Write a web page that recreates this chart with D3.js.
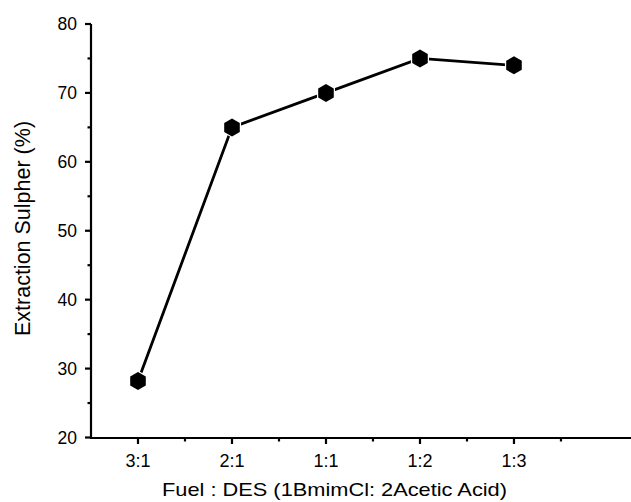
<!DOCTYPE html>
<html><head><meta charset="utf-8">
<script src="https://cdn.jsdelivr.net/npm/d3@7"></script>
<style>body{margin:0;background:#fff;} svg{display:block;font-family:Arial,"Liberation Sans",sans-serif;}</style>
</head><body>
<svg id="chart" width="631" height="502"></svg>
<script>
const categories = ["3:1", "2:1", "1:1", "1:2", "1:3"];
const extraction = [28.2, 65, 70, 75, 74];
const yTicks = [20, 30, 40, 50, 60, 70, 80];
const xTitle = "Fuel : DES (1BmimCl: 2Acetic Acid)";
const yTitle = "Extraction Sulpher (%)";

const svg = d3.select("#chart");
const x = d3.scaleLinear().domain([0.5, 6.245]).range([91, 631]);
const y = d3.scaleLinear().domain([20, 80]).range([437.5, 24]);

// Y axis
const gy = svg.append("g").attr("transform", "translate(91,0)");
gy.append("line").attr("x1",0).attr("x2",0).attr("y1",y(80)).attr("y2",y(20)+1.5).attr("stroke","#000").attr("stroke-width",2.2);
gy.selectAll(".maj").data(yTicks).join("line")
  .attr("x1",-6).attr("x2",0).attr("y1",d=>y(d)).attr("y2",d=>y(d)).attr("stroke","#000").attr("stroke-width",2.2);
gy.selectAll(".min").data(yTicks.slice(0,-1).map(d=>d+5)).join("line")
  .attr("x1",-3.5).attr("x2",0).attr("y1",d=>y(d)).attr("y2",d=>y(d)).attr("stroke","#000").attr("stroke-width",2.2);
gy.selectAll("text").data(yTicks).join("text")
  .attr("x",-14).attr("y",d=>y(d)).attr("dy","0.36em").attr("text-anchor","end")
  .attr("font-size",17.5).text(d=>d);

// X axis
const gx = svg.append("g").attr("transform", "translate(0,438)");
gx.append("line").attr("x1",90).attr("x2",631).attr("y1",0).attr("y2",0).attr("stroke","#000").attr("stroke-width",2.2);
const idx = categories.map((c,i)=>i+1);
gx.selectAll(".maj").data(idx).join("line")
  .attr("x1",d=>x(d)).attr("x2",d=>x(d)).attr("y1",0).attr("y2",6).attr("stroke","#000").attr("stroke-width",2.2);
gx.selectAll(".min").data(idx.map(d=>d+0.5)).join("line")
  .attr("x1",d=>x(d)).attr("x2",d=>x(d)).attr("y1",0).attr("y2",3.5).attr("stroke","#000").attr("stroke-width",2.2);
gx.selectAll("text").data(categories).join("text")
  .attr("x",(d,i)=>x(i+1)).attr("y",29).attr("text-anchor","middle")
  .attr("font-size",18).text(d=>d);

// Titles
svg.append("text").attr("x",334.5).attr("y",495.5).attr("text-anchor","middle").attr("font-size",18.5)
  .attr("textLength",345).attr("lengthAdjust","spacingAndGlyphs").text(xTitle);
svg.append("text").attr("transform","translate(30,228.5) rotate(-90)").attr("text-anchor","middle").attr("font-size",21.5).text(yTitle);

// Line
const pts = extraction.map((v,i)=>[x(i+1), y(v)]);
svg.append("path").datum(pts)
  .attr("d", d3.line())
  .attr("fill","none").attr("stroke","#000").attr("stroke-width",2.8);

// Hexagon markers (pointy top)
const r = 9;
const hex = d3.range(6).map(k=>{const a = Math.PI/3*k - Math.PI/2; return [r*Math.cos(a), r*Math.sin(a)];});
svg.selectAll(".pt").data(pts).join("path")
  .attr("transform",d=>`translate(${d[0]},${d[1]})`)
  .attr("d","M"+hex.map(p=>p.join(",")).join("L")+"Z")
  .attr("fill","#000").attr("stroke","#fff").attr("stroke-width",2.5).attr("paint-order","stroke");
</script>
</body></html>
